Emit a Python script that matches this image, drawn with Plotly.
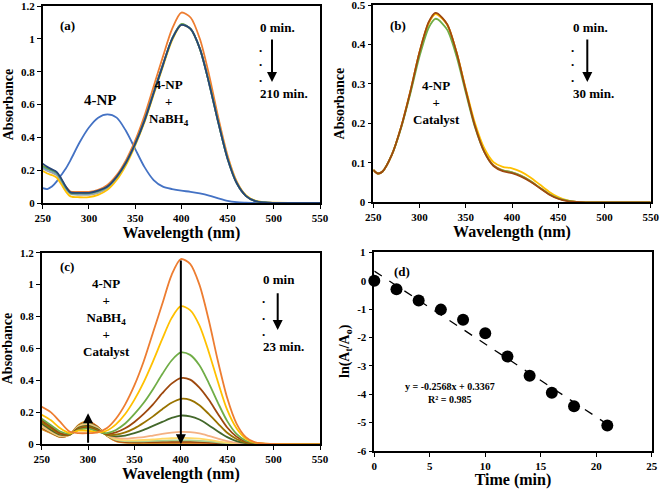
import plotly.graph_objects as go

# ---------------- data ----------------
# Panel (a): 4-NP and 4-NP + NaBH4 (0 -> 210 min)
wl_a = [250, 255, 260, 265, 270, 275, 280, 290, 300, 310, 320, 330, 340, 350, 360,
        370, 380, 390, 400, 410, 420, 430, 440, 450, 460, 470, 480, 490, 500, 550]
a_4np = [0.09, 0.085, 0.10, 0.13, 0.17, 0.21, 0.26, 0.37, 0.46, 0.52, 0.54, 0.52, 0.44, 0.33, 0.22,
         0.14, 0.10, 0.085, 0.075, 0.068, 0.058, 0.045, 0.028, 0.013, 0.005, 0.002, 0, 0, 0, 0]
a_orange = [0.225, 0.21, 0.20, 0.185, 0.14, 0.10, 0.07, 0.068, 0.068, 0.08, 0.11, 0.17, 0.26, 0.38, 0.53,
            0.71, 0.89, 1.06, 1.16, 1.13, 1.00, 0.78, 0.52, 0.29, 0.13, 0.045, 0.012, 0.003, 0.001, 0]
a_gray = [0.21, 0.195, 0.185, 0.17, 0.13, 0.085, 0.055, 0.05, 0.05, 0.062, 0.09, 0.15, 0.24, 0.355, 0.5,
          0.67, 0.84, 1.0, 1.09, 1.06, 0.94, 0.73, 0.49, 0.27, 0.12, 0.043, 0.012, 0.003, 0.001, 0]
a_yellow = [0.195, 0.18, 0.17, 0.155, 0.115, 0.07, 0.04, 0.035, 0.036, 0.05, 0.08, 0.14, 0.23, 0.35, 0.49,
            0.66, 0.83, 0.99, 1.085, 1.06, 0.94, 0.735, 0.495, 0.275, 0.125, 0.046, 0.014, 0.004, 0.002, 0]
a_lblue = [0.22, 0.205, 0.195, 0.18, 0.14, 0.09, 0.06, 0.057, 0.057, 0.07, 0.097, 0.156, 0.244, 0.358, 0.5,
           0.67, 0.84, 1.0, 1.088, 1.06, 0.94, 0.73, 0.49, 0.27, 0.12, 0.042, 0.011, 0.003, 0.001, 0]
a_green = [0.225, 0.21, 0.2, 0.185, 0.145, 0.095, 0.062, 0.06, 0.06, 0.072, 0.099, 0.158, 0.245, 0.36, 0.5,
           0.67, 0.84, 1.0, 1.09, 1.06, 0.94, 0.73, 0.49, 0.27, 0.12, 0.042, 0.011, 0.003, 0.001, 0]
a_navy = [0.24, 0.22, 0.205, 0.19, 0.15, 0.10, 0.065, 0.062, 0.062, 0.075, 0.10, 0.16, 0.245, 0.36, 0.5,
          0.67, 0.84, 1.0, 1.085, 1.06, 0.94, 0.73, 0.49, 0.27, 0.12, 0.042, 0.011, 0.003, 0.001, 0]

# Panel (b): 4-NP + catalyst (0 -> 30 min)
wl_b = [250, 255, 260, 270, 280, 290, 300, 310, 317, 320, 330, 340, 350, 360, 370,
        380, 390, 400, 410, 420, 430, 440, 450, 460, 470, 480, 500, 550]
b_orange = [0.082, 0.073, 0.078, 0.12, 0.19, 0.28, 0.38, 0.455, 0.478, 0.476, 0.45, 0.38, 0.285, 0.195, 0.13,
            0.094, 0.081, 0.076, 0.067, 0.054, 0.037, 0.021, 0.01, 0.004, 0.001, 0, 0, 0]
b_yellow = [0.082, 0.073, 0.078, 0.12, 0.19, 0.28, 0.38, 0.455, 0.477, 0.475, 0.45, 0.38, 0.288, 0.2, 0.137,
            0.102, 0.09, 0.086, 0.077, 0.063, 0.045, 0.027, 0.013, 0.005, 0.001, 0, 0, 0]
b_green = [0.082, 0.073, 0.078, 0.12, 0.188, 0.275, 0.37, 0.443, 0.465, 0.463, 0.437, 0.37, 0.278, 0.19, 0.128,
           0.093, 0.081, 0.076, 0.067, 0.054, 0.037, 0.021, 0.01, 0.004, 0.001, 0, 0, 0]
b_brown = [0.082, 0.073, 0.078, 0.12, 0.19, 0.28, 0.381, 0.457, 0.48, 0.478, 0.451, 0.38, 0.284, 0.193, 0.128,
           0.092, 0.079, 0.074, 0.065, 0.052, 0.036, 0.02, 0.009, 0.003, 0.001, 0, 0, 0]

# Panel (c): 4-NP + NaBH4 + catalyst (0 -> 23 min)
wl_c = [250, 260, 270, 280, 290, 300, 310, 320, 330, 340, 350, 360, 370, 380, 390,
        400, 410, 420, 430, 440, 450, 460, 470, 480, 500, 550]
c_1 = [0.235, 0.2, 0.14, 0.08, 0.07, 0.07, 0.075, 0.10, 0.16, 0.25, 0.37, 0.52, 0.70, 0.88, 1.06,
       1.16, 1.13, 1.00, 0.78, 0.52, 0.29, 0.13, 0.045, 0.012, 0.002, 0]
c_2 = [0.185, 0.15, 0.10, 0.07, 0.085, 0.085, 0.075, 0.085, 0.125, 0.19, 0.28, 0.39, 0.52, 0.66, 0.79,
       0.865, 0.84, 0.745, 0.58, 0.39, 0.215, 0.10, 0.035, 0.01, 0.002, 0]
c_3 = [0.16, 0.12, 0.08, 0.065, 0.09, 0.10, 0.08, 0.07, 0.09, 0.13, 0.19, 0.26, 0.345, 0.44, 0.525,
       0.575, 0.56, 0.495, 0.385, 0.26, 0.145, 0.065, 0.022, 0.007, 0.001, 0]
c_4 = [0.15, 0.11, 0.07, 0.062, 0.095, 0.105, 0.085, 0.065, 0.075, 0.10, 0.14, 0.19, 0.25, 0.32, 0.38,
       0.415, 0.405, 0.355, 0.28, 0.19, 0.105, 0.048, 0.016, 0.005, 0.001, 0]
c_5 = [0.14, 0.10, 0.065, 0.06, 0.10, 0.11, 0.09, 0.06, 0.06, 0.075, 0.10, 0.135, 0.175, 0.22, 0.26,
       0.285, 0.278, 0.245, 0.19, 0.13, 0.072, 0.033, 0.011, 0.003, 0, 0]
c_6 = [0.13, 0.09, 0.06, 0.06, 0.105, 0.115, 0.095, 0.06, 0.05, 0.055, 0.07, 0.09, 0.115, 0.14, 0.165,
       0.18, 0.175, 0.155, 0.12, 0.08, 0.045, 0.02, 0.007, 0.002, 0, 0]
c_7 = [0.12, 0.085, 0.055, 0.06, 0.11, 0.12, 0.10, 0.06, 0.04, 0.035, 0.04, 0.045, 0.055, 0.065, 0.073,
       0.078, 0.076, 0.068, 0.053, 0.036, 0.02, 0.009, 0.003, 0.001, 0, 0]
c_8 = [0.115, 0.08, 0.052, 0.06, 0.112, 0.125, 0.10, 0.058, 0.032, 0.025, 0.025, 0.027, 0.03, 0.035, 0.038,
       0.04, 0.039, 0.035, 0.028, 0.019, 0.011, 0.005, 0.002, 0, 0, 0]
c_9 = [0.11, 0.078, 0.05, 0.06, 0.115, 0.13, 0.105, 0.057, 0.028, 0.02, 0.018, 0.019, 0.021, 0.023, 0.024,
       0.025, 0.024, 0.022, 0.018, 0.012, 0.007, 0.003, 0.001, 0, 0, 0]
c_10 = [0.105, 0.075, 0.048, 0.06, 0.118, 0.135, 0.108, 0.056, 0.025, 0.015, 0.013, 0.013, 0.014, 0.015, 0.015,
        0.015, 0.015, 0.014, 0.011, 0.008, 0.005, 0.002, 0.001, 0, 0, 0]
c_11 = [0.10, 0.072, 0.047, 0.06, 0.12, 0.14, 0.11, 0.055, 0.022, 0.012, 0.01, 0.01, 0.01, 0.01, 0.01,
        0.01, 0.01, 0.009, 0.008, 0.006, 0.004, 0.002, 0.001, 0, 0, 0]
c_12 = [0.095, 0.07, 0.046, 0.06, 0.123, 0.145, 0.112, 0.055, 0.02, 0.01, 0.008, 0.008, 0.008, 0.008, 0.008,
        0.008, 0.008, 0.007, 0.006, 0.005, 0.003, 0.001, 0, 0, 0, 0]

# Panel (d): kinetics
time_min = [0, 2, 4, 6, 8, 10, 12, 14, 16, 18, 21]
ln_ratio = [0, -0.30, -0.70, -1.02, -1.38, -1.85, -2.67, -3.35, -3.95, -4.42, -5.10]
fit_slope = -0.2568
fit_intercept = 0.3367

# tick values
wl_ticks = [250, 300, 350, 400, 450, 500, 550]
abs_ticks_big = [0, 0.2, 0.4, 0.6, 0.8, 1, 1.2]
abs_ticks_small = [0, 0.1, 0.2, 0.3, 0.4, 0.5]
time_ticks = [0, 5, 10, 15, 20, 25]
ln_ticks = [-6, -5, -4, -3, -2, -1, 0, 1]
# the top label ("1") is placed as a separate text next to its tick (see below)
ln_ticktext = ["-6", "-5", "-4", "-3", "-2", "-1", "0", ""]
ln_top_label = "1"

# ---------------- styling ----------------
SERIF = "Liberation Serif"
W, H = 661, 489


def px(xp):
    return xp / W


def py(yp):
    return 1 - yp / H


fig = go.Figure()


def add_lines(xs, ys_list, colors, xa, ya, width=1.8):
    for ys, col in zip(ys_list, colors):
        fig.add_trace(go.Scatter(x=xs, y=ys, mode="lines", xaxis=xa, yaxis=ya,
                                 line=dict(color=col, width=width, shape="spline", smoothing=0.8),
                                 showlegend=False, hoverinfo="skip"))


add_lines(wl_a, [a_4np, a_orange, a_gray, a_yellow, a_lblue, a_green, a_navy],
          ["#4472C4", "#ED7D31", "#A5A5A5", "#FFC000", "#5B9BD5", "#70AD47", "#264478"], "x", "y")
add_lines(wl_b, [b_orange, b_yellow, b_green, b_brown],
          ["#ED7D31", "#FFC000", "#70AD47", "#9E480E"], "x2", "y2")
add_lines(wl_c, [c_12, c_11, c_10, c_9, c_8, c_7, c_6, c_5, c_4, c_3, c_2, c_1],
          ["#C9A227", "#ED7D31", "#9E480E", "#A9D18E", "#FFD966", "#F4B183",
           "#43682B", "#997300", "#9E480E", "#70AD47", "#FFC000", "#ED7D31"], "x3", "y3")

fit_x = [time_min[0], time_min[-1]]
fit_y = [fit_slope * t + fit_intercept for t in fit_x]
fig.add_trace(go.Scatter(x=fit_x, y=fit_y, mode="lines", xaxis="x4", yaxis="y4",
                         line=dict(color="black", width=1.3, dash="dash"),
                         showlegend=False, hoverinfo="skip"))
fig.add_trace(go.Scatter(x=time_min, y=ln_ratio, mode="markers", xaxis="x4", yaxis="y4",
                         marker=dict(color="black", size=12), cliponaxis=False,
                         showlegend=False, hoverinfo="skip"))

tickfont = dict(family=SERIF, size=11, color="black", weight="bold")
xtitlefont = dict(family=SERIF, size=16, color="black", weight="bold")
ytitlefont = dict(family=SERIF, size=14, color="black", weight="bold")


def common(domain, anchor, rng, ticks, title, font, standoff, ticktext=None):
    d = dict(domain=domain, anchor=anchor, range=rng, tickmode="array", tickvals=ticks,
             automargin=False, ticklabeloverflow="allow",
             showline=True, mirror=True, linecolor="black", linewidth=1.6,
             ticks="outside", ticklen=4, tickcolor="black", tickwidth=1.2,
             showgrid=False, zeroline=False, tickfont=tickfont,
             title=dict(text=title, font=font, standoff=standoff))
    if ticktext is not None:
        d["ticktext"] = ticktext
    return d


def xaxis(domain, anchor, rng, ticks, title):
    return common(domain, anchor, rng, ticks, title, xtitlefont, 2)


def yaxis(domain, anchor, rng, ticks, title, ticktext=None):
    return common(domain, anchor, rng, ticks, title, ytitlefont, 4, ticktext)


fig.update_layout(
    width=W, height=H, margin=dict(l=0, r=0, t=0, b=0, autoexpand=False),
    paper_bgcolor="white", plot_bgcolor="white", showlegend=False,
    xaxis=xaxis([px(42.7), px(320)], "y", [250, 550], wl_ticks, "Wavelength (nm)"),
    yaxis=yaxis([py(203), py(6)], "x", [0, 1.2], abs_ticks_big, "Absorbance"),
    xaxis2=xaxis([px(373.3), px(650.7)], "y2", [250, 550], wl_ticks, "Wavelength (nm)"),
    yaxis2=yaxis([py(202.3), py(5)], "x2", [0, 0.5], abs_ticks_small, "Absorbance"),
    xaxis3=xaxis([px(41.7), px(320)], "y3", [250, 550], wl_ticks, "Wavelength (nm)"),
    yaxis3=yaxis([py(444.3), py(252.7)], "x3", [0, 1.2], abs_ticks_big, "Absorbance"),
    xaxis4=xaxis([px(374.3), px(651.7)], "y4", [0, 25], time_ticks, "Time (min)"),
    yaxis4=yaxis([py(451), py(251.7)], "x4", [-6, 1.02], ln_ticks,
                 "ln(A<sub>t</sub>/A<sub>o</sub>)", ln_ticktext),
)

ann = []


def label(x, y, text, size=12, xanchor="center", yanchor="middle"):
    ann.append(dict(x=px(x), y=py(y), xref="paper", yref="paper", text=text,
                    showarrow=False, xanchor=xanchor, yanchor=yanchor,
                    font=dict(family=SERIF, size=size, color="black", weight="bold")))


def arrow(x, y0, y1):
    # head at pixel y1, tail at pixel y0 (screen pixels, y downward)
    ann.append(dict(x=px(x), y=py(y1), xref="paper", yref="paper",
                    axref="pixel", ayref="pixel", ax=0, ay=y0 - y1,
                    text="", showarrow=True,
                    arrowhead=2, arrowsize=1, arrowwidth=2, arrowcolor="black"))


# panel (a)
label(67, 25, "(a)", 13)
label(100, 100, "4-NP", 15)
label(169, 103, "4-NP<br>+<br>NaBH<sub>4</sub>", 13)
label(258, 27, "0 min.", 13, xanchor="left")
for yy in (47, 62, 78):
    label(260, yy, ".", 13)
arrow(272, 38, 82)
label(258, 93, "210 min.", 13, xanchor="left")

# panel (b)
label(398, 25, "(b)", 13)
label(436, 103, "4-NP<br>+<br>Catalyst", 13)
label(570.7, 27, "0 min.", 13, xanchor="left")
for yy in (47, 62, 78):
    label(572.5, yy, ".", 13)
arrow(587.3, 38, 82)
label(570.7, 93, "30 min.", 13, xanchor="left")

# panel (c)
label(67, 266, "(c)", 13)
label(106.7, 317, "4-NP<br>+<br>NaBH<sub>4</sub><br>+<br>Catalyst", 13)
label(260.7, 279, "0 min", 13, xanchor="left")
for yy in (298, 315, 331):
    label(263.3, yy, ".", 13)
arrow(277.7, 291.7, 330)
label(260.7, 346.7, "23 min.", 13, xanchor="left")

# vertical arrows inside panel (c) at 400 nm (down) and 300 nm (up)
ann.append(dict(x=400, y=0.0, ax=400, ay=1.16, xref="x3", yref="y3", axref="x3", ayref="y3",
                text="", showarrow=True, arrowhead=2, arrowsize=1, arrowwidth=2, arrowcolor="black"))
ann.append(dict(x=300, y=0.195, ax=300, ay=0.0, xref="x3", yref="y3", axref="x3", ayref="y3",
                text="", showarrow=True, arrowhead=2, arrowsize=1, arrowwidth=2, arrowcolor="black"))

# panel (d)
label(401.7, 271.7, "(d)", 13)
label(450, 386.7, "y = -0.2568x + 0.3367", 10)
label(449.3, 399.3, "R² = 0.985", 10)
label(368, 252, ln_top_label, 11, xanchor="right")

fig.update_layout(annotations=ann)
fig.write_html("out.html", config={"displayModeBar": False},
               post_script="document.body.style.margin='0';document.body.style.overflow='hidden';")
